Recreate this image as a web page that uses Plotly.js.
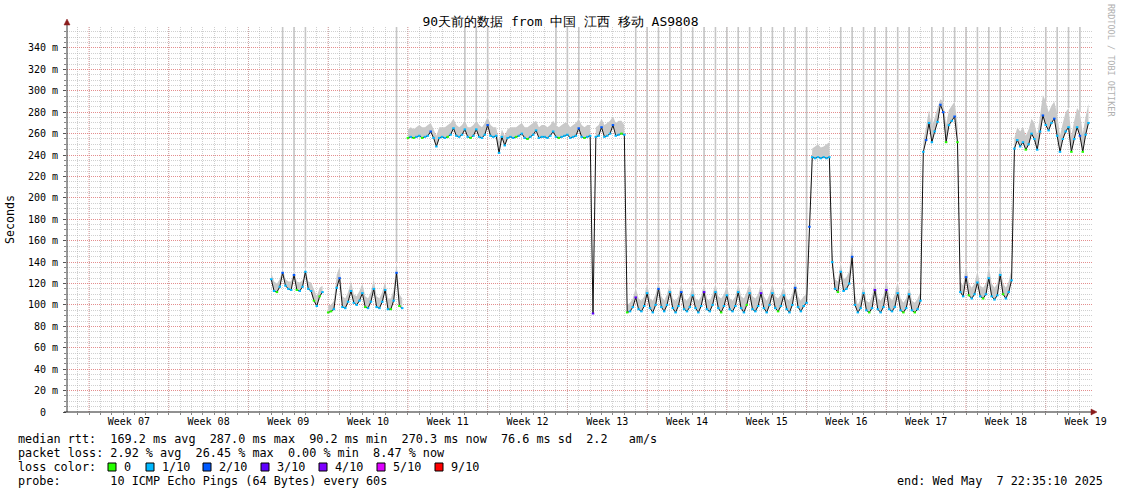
<!DOCTYPE html>
<html><head><meta charset="utf-8">
<script src="https://cdn.plot.ly/plotly-3.0.1.min.js"></script>
<style>html,body{margin:0;padding:0;background:#fff}#chart{width:1121px;height:494px}</style>
</head><body><div id="chart"></div>
<script>
// ---- data (time in days since Monday of Week 07, samples every 0.25 day) ----
const STEP = 0.25;
const segA_t0 = 16;
const segA_med = [124,113,112,117,130,118,115,114,128,114,113,117,131,115,113,104,99,108,112];
const segA_hi  = [130,122,120,124,134,124,122,122,132,122,121,123,134,122,121,114,108,116,118];
const segB_t0 = 21;
const segB_med = [93,94,96,116,125,98,97,103,113,102,100,104,111,98,97,103,115,98,97,103,114,96,96,104,130,99,97];
const segB_hi  = [100,100,104,128,136,108,106,112,122,110,108,113,120,108,106,112,124,108,106,112,122,106,106,114,140,110,106];
const segC_t0 = 28;
const segC_med = [256,257,256,257, 258,256,257,258, 262,256,248,256, 257,256,257,259, 265,258,257,259,
  264,257,256,258, 264,257,256,259, 268,258,257,258, 242,257,249,256, 257,256,257,258,
  260,256,255,257, 259,263,256,257, 257,256,258,262, 257,256,257,258, 259,256,257,258,
  265,257,256,257, 258,92,257,258, 266,257,258,260, 268,258,259,260, 259];
const segC_hi  = [264,266,264,266, 268,266,266,268, 270,264,258,266, 266,266,268,270, 274,268,266,268,
  272,266,266,268, 272,268,266,270, 276,268,266,266, 252,264,258,264, 266,266,266,268,
  270,266,266,268, 270,272,266,268, 268,266,268,272, 268,266,268,270, 270,266,268,270,
  274,268,266,268, 268,100,266,268, 274,268,270,272, 276,270,272,272, 268];
const segD_t0 = 47.25;
const segD_med = [93,94,98, 107,96,94,99, 111,97,93,100, 115,98,94,100, 112,97,93,99, 112,96,94,98,
  109,97,93,99, 112,96,94,100, 112,97,93,99, 109,96,94,99, 112,97,93,100, 111,96,94,99,
  111,97,93,100, 111,97,94,99, 109,96,93,100, 116,98,94,99, 102];
const segD_hi  = [100,102,106, 116,106,104,108, 120,106,104,110, 122,108,104,110, 120,106,104,108, 120,106,104,108,
  118,106,104,108, 120,106,104,110, 120,108,106,110, 118,106,104,108, 120,108,106,112, 120,108,106,110,
  120,108,104,110, 120,108,106,110, 118,106,104,110, 124,108,104,108, 110];
const segE_t0 = 63.25;
const segE_med = [173,238,237,238,237,238,237,238];
const segE_hi  = [180,246,248,250,247,248,250,252];
const segF_t0 = 65.25;
const segF_med = [140,115,112,131,113,115,120,145,100];
const segF_hi  = [150,124,122,140,124,126,132,160,110];
const segG_t0 = 67.5;
const segG_med = [93,97, 111,95,93,97, 114,96,93,98, 114,96,94,98, 111,95,93,97, 110,95,93,96, 104];
const segG_hi  = [100,106, 120,104,102,108, 122,106,104,108, 124,108,104,110, 122,106,102,106, 118,104,102,106, 112];
const segH_t0 = 73.25;
const segH_med = [243,254,270,252,262,271,287,280,252,268,272,276,252];
const segH_hi  = [252,266,282,266,276,284,292,290,268,282,286,290,268];
const segI_t0 = 76.5;
const segI_med = [112,108, 126,109,106,110, 121,108,106,110, 125,108,105,109, 128,110,106,112, 123];
const segI_hi  = [122,118, 138,120,116,120, 132,118,116,120, 136,120,116,120, 138,120,116,122, 134];
const segJ_t0 = 81.25;
const segJ_med = [246,254,248,252,245,250,260,255,245,262,277,268,263,270,274,258,243,255,262,266,243,255,266,258,243,259,270];
const segJ_hi  = [256,266,262,266,258,264,274,270,258,276,296,290,280,286,290,278,258,270,280,284,258,272,284,280,260,276,288];

// loss colouring of the median (default 1/10)
const lossGreenT  = [16.5,18.25,19.75,20.25,21.0,21.25,24.25,26.5,27.25,28.0,28.5,29.25,31.5,33.5,37.5,38.5,41.25,43.5,46.75,47.25,55.5,57.75,60.5,65.75,68.5,71.5,72.5,75.25,76.25,77.25,78.5,80.25,82.25,86.25,87.25];
const lossBlueT   = [17.0,18.0,22.0,27.0,30.0,35.0,43.0,45.0,46.0,50.0,52.0,62.0,63.25,67.0,73.5,74.75,75.0,76.0,77.0,83.75,84.75,87.0];
const lossPurpleT = [44.25,48.0,54.0,59.0,69.0,70.0];

// days with an outlier ping running off the top of the graph
const spikeDays = [17,18,19,27,33,34,35,41,42,43,48,49,50,51,52,53,54,55,56,57,58,59,60,61,62,63,66,67,68,69,70,71,72,74,75,76,77,78,79,80,84,85,86,87];

const weekLabels = ['Week 07','Week 08','Week 09','Week 10','Week 11','Week 12','Week 13','Week 14','Week 15','Week 16','Week 17','Week 18','Week 19'];
const weekMid    = [3.5,10.5,17.5,24.5,31.5,38.5,45.5,52.5,59.5,66.5,73.5,80.5,87.5];
const weekStart  = [0,7,14,21,28,35,42,49,56,63,70,77,84];
const yTickVals  = [0,20,40,60,80,100,120,140,160,180,200,220,240,260,280,300,320,340];

const lossLabels = ['0','1/10','2/10','3/10','4/10','5/10','9/10'];
const lossColors = ['#26ff00','#00b8ff','#0059ff','#5e00ff','#7e00ff','#dd00ff','#ff0000'];

const statLines = [
  'median rtt:  169.2 ms avg  287.0 ms max  90.2 ms min  270.3 ms now  76.6 ms sd  2.2   am/s',
  'packet loss: 2.92 % avg  26.45 % max  0.00 % min  8.47 % now',
  'loss color:',
  'probe:       10 ICMP Echo Pings (64 Bytes) every 60s'
];
const endText = 'end: Wed May  7 22:35:10 2025';
const titleText = '90天前的数据 from 中国 江西 移动 AS9808';

// ---- build ----
function seg(t0, med, hi){ return {t: med.map((_,i)=>t0+i*STEP), med, hi}; }
function join(list){ const o={t:[],med:[],hi:[]}; list.forEach(s=>{o.t.push(...s.t);o.med.push(...s.med);o.hi.push(...s.hi);}); return o; }
const runs = [
  join([seg(segA_t0,segA_med,segA_hi)]),
  join([seg(segB_t0,segB_med,segB_hi)]),
  join([seg(segC_t0,segC_med,segC_hi),seg(segD_t0,segD_med,segD_hi),seg(segE_t0,segE_med,segE_hi),
        seg(segF_t0,segF_med,segF_hi),seg(segG_t0,segG_med,segG_hi),seg(segH_t0,segH_med,segH_hi),
        seg(segI_t0,segI_med,segI_hi),seg(segJ_t0,segJ_med,segJ_hi)])
];
const FONT = 'DejaVu Sans Mono, monospace';
const traces = [];
// smoke
runs.forEach(r=>{
  traces.push({x:r.t,y:r.med,mode:'lines',line:{width:0,color:'rgba(0,0,0,0)'},hoverinfo:'skip',showlegend:false});
  traces.push({x:r.t,y:r.hi,mode:'lines',line:{width:0,color:'rgba(0,0,0,0)'},fill:'tonexty',fillcolor:'#c9c9c9',hoverinfo:'skip',showlegend:false});
});
// spikes
function hiAt(d){
  for(const r of runs){
    for(let i=0;i<r.t.length-1;i++){
      if(d>=r.t[i] && d<=r.t[i+1]){ const f=(d-r.t[i])/(r.t[i+1]-r.t[i]); return r.hi[i]+f*(r.hi[i+1]-r.hi[i]); }
    }
  }
  return null;
}
const sx=[], sy=[];
spikeDays.forEach(d=>{ const h=hiAt(d); if(h!==null){ sx.push(d,d,null); sy.push(h,420,null);} });
traces.push({x:sx,y:sy,mode:'lines',line:{width:1.6,color:'#c6c6c6'},hoverinfo:'skip',showlegend:false,connectgaps:false});
// median line
runs.forEach(r=>{
  traces.push({x:r.t,y:r.med,mode:'lines',line:{width:1,color:'#111'},hoverinfo:'skip',showlegend:false});
});
// loss coloured median pieces
const has=(arr,t)=>arr.some(v=>Math.abs(v-t)<1e-6);
const pieces = {0:{x:[],y:[]},1:{x:[],y:[]},2:{x:[],y:[]},3:{x:[],y:[]}};
runs.forEach(r=>{
  r.t.forEach((t,i)=>{
    let c=1; if(has(lossGreenT,t)) c=0; else if(has(lossBlueT,t)) c=2; else if(has(lossPurpleT,t)) c=3;
    pieces[c].x.push(t-0.11,t+0.11,null); pieces[c].y.push(r.med[i],r.med[i],null);
  });
});
[1,0,2,3].forEach(c=>traces.push({x:pieces[c].x,y:pieces[c].y,mode:'lines',line:{width:2,color:lossColors[c]},hoverinfo:'skip',showlegend:false}));

// ---- layout helpers (pixel -> paper) ----
const L=67,R=1092,T=27,B=412;
const xp=px=>(px-L)/(R-L), yp=py=>(B-py)/(B-T);
const nb=s=>s.replace(/ /g,'\u00a0');
const TXT = 11.8;

const annotations = [];
const rowsY=[439,453,467,481];
statLines.forEach((s,i)=>annotations.push({xref:'paper',yref:'paper',x:xp(16),y:yp(rowsY[i]),xanchor:'left',yanchor:'middle',text:nb(s),showarrow:false,font:{family:FONT,size:TXT,color:'#000'}}));
annotations.push({xref:'paper',yref:'paper',x:xp(1105),y:yp(481),xanchor:'right',yanchor:'middle',text:nb(endText),showarrow:false,font:{family:FONT,size:TXT,color:'#000'}});
const boxX=[108,146,203,261,319,377,435];
const shapes=[];
lossLabels.forEach((lab,i)=>{
  annotations.push({xref:'paper',yref:'paper',x:xp(boxX[i]+14),y:yp(467),xanchor:'left',yanchor:'middle',text:lab,showarrow:false,font:{family:FONT,size:TXT,color:'#000'}});
  shapes.push({type:'rect',xref:'paper',yref:'paper',x0:xp(boxX[i]),x1:xp(boxX[i]+8),y0:yp(471),y1:yp(463),fillcolor:lossColors[i],line:{color:'#000',width:1}});
});
annotations.push({xref:'paper',yref:'paper',x:xp(10),y:yp(220),textangle:-90,text:'Seconds',showarrow:false,xanchor:'center',yanchor:'middle',font:{family:FONT,size:11.6,color:'#000'}});
annotations.push({xref:'paper',yref:'paper',x:xp(1111),y:yp(60),textangle:90,text:nb('RRDTOOL / TOBI OETIKER'),showarrow:false,xanchor:'center',yanchor:'middle',font:{family:FONT,size:8.5,color:'#b0b0b0'}});

// week boundary (major) grid lines
weekStart.forEach(w=>shapes.push({type:'line',xref:'x',yref:'paper',x0:w,x1:w,y0:0,y1:1,layer:'below',line:{color:'rgba(235,120,120,0.75)',width:1,dash:'1px,1px'}}));
// axis lines and arrows
shapes.push({type:'line',xref:'paper',yref:'paper',x0:0,x1:0,y0:0,y1:yp(24),line:{color:'#333',width:1}});
shapes.push({type:'line',xref:'paper',yref:'paper',x0:xp(64),x1:xp(1093),y0:0,y1:0,line:{color:'#222',width:1}});
shapes.push({type:'path',xref:'paper',yref:'paper',path:`M ${xp(64)} ${yp(25)} L ${xp(67)} ${yp(19)} L ${xp(70)} ${yp(25)} Z`,fillcolor:'#8b1c1c',line:{color:'#8b1c1c',width:0.5}});
shapes.push({type:'path',xref:'paper',yref:'paper',path:`M ${xp(1091)} ${yp(409)} L ${xp(1097)} ${yp(412)} L ${xp(1091)} ${yp(415)} Z`,fillcolor:'#8b1c1c',line:{color:'#8b1c1c',width:0.5}});

const layout = {
  width:1121,height:494,
  margin:{l:L,r:1121-R,t:T,b:494-B,autoexpand:false},
  paper_bgcolor:'#fff',plot_bgcolor:'#fff',
  showlegend:false,
  title:{text:titleText,xref:'container',x:0.5,xanchor:'center',yref:'container',y:1-21/494,yanchor:'middle',font:{family:FONT,size:13,color:'#000'}},
  xaxis:{range:[(L-89)/11.39,(R-89)/11.39],tickmode:'array',tickvals:weekMid,ticktext:weekLabels,showgrid:false,zeroline:false,showline:false,
    ticks:'',ticklabelstandoff:2,tickfont:{family:FONT,size:10,color:'#000'},
    minor:{tickmode:'linear',tick0:0,dtick:1,showgrid:true,gridcolor:'rgba(170,170,170,0.55)',griddash:'1px,1px',gridwidth:1,ticks:'outside',ticklen:2,tickcolor:'#888'},
    fixedrange:true},
  yaxis:{range:[0,359.6],tickmode:'array',tickvals:yTickVals,ticktext:yTickVals.map(v=>v===0?'0\u00a0\u00a0':v+'\u00a0m'),
    showgrid:true,gridcolor:'rgba(235,120,120,0.75)',griddash:'1px,1px',gridwidth:1,zeroline:false,showline:false,
    ticks:'outside',ticklen:3,tickcolor:'#555',ticklabelstandoff:3,tickfont:{family:FONT,size:10,color:'#000'},
    minor:{tickmode:'linear',tick0:0,dtick:5,showgrid:true,gridcolor:'rgba(170,170,170,0.55)',griddash:'1px,1px',gridwidth:1,ticks:'outside',ticklen:2,tickcolor:'#888'},
    fixedrange:true},
  annotations, shapes
};
Plotly.newPlot('chart',traces,layout,{staticPlot:true,displayModeBar:false});
</script></body></html>
